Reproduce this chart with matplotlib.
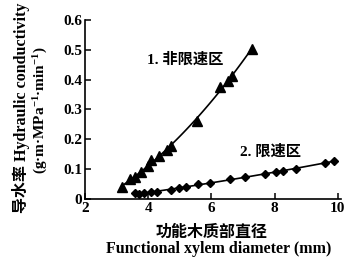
import numpy as np
import matplotlib
matplotlib.use("Agg")
import matplotlib.pyplot as plt

# Series 1: non rate-limiting zone (triangles)
x1 = [3.18, 3.41, 3.59, 3.77, 3.98, 4.08, 4.34, 4.60, 4.71, 5.54, 6.27, 6.53, 6.66, 7.28]
y1 = [0.039, 0.066, 0.075, 0.092, 0.109, 0.131, 0.145, 0.165, 0.176, 0.260, 0.376, 0.395, 0.412, 0.504]
# Series 2: rate-limiting zone (diamonds)
x2 = [3.59, 3.72, 3.88, 4.08, 4.29, 4.71, 4.97, 5.18, 5.59, 5.96, 6.58, 7.05, 7.68, 8.04, 8.25, 8.67, 9.60, 9.87]
y2 = [0.019, 0.017, 0.019, 0.022, 0.025, 0.030, 0.036, 0.041, 0.050, 0.055, 0.066, 0.073, 0.084, 0.090, 0.095, 0.100, 0.120, 0.129]

label1 = "1. 非限速区"
label2 = "2. 限速区"
xticks = [2, 4, 6, 8, 10]
yticks = [0, 0.1, 0.2, 0.3, 0.4, 0.5, 0.6]
ytick_labels = ["0", "0.1", "0.2", "0.3", "0.4", "0.5", "0.6"]

plt.rcParams['font.family'] = ['Liberation Serif', 'Noto Sans CJK SC', 'DejaVu Serif']
plt.rcParams['font.weight'] = 'bold'
plt.rcParams['mathtext.fontset'] = 'custom'
plt.rcParams['mathtext.rm'] = 'Liberation Serif:bold'
plt.rcParams['mathtext.bf'] = 'Liberation Serif:bold'
plt.rcParams['mathtext.default'] = 'bf'

fig = plt.figure(figsize=(3.51, 2.67), dpi=100)
ax = fig.add_axes([85/351, 1-199/267, 256/351, 179/267])

# fitted smooth curves from data
p1 = np.polyfit(x1, y1, 2)
xs1 = np.linspace(min(x1), max(x1), 100)
ax.plot(xs1, np.polyval(p1, xs1), color='black', lw=1.2)
p2 = np.polyfit(x2, y2, 2)
xs2 = np.linspace(min(x2), max(x2), 100)
ax.plot(xs2, np.polyval(p2, xs2), color='black', lw=1.2)

ax.plot(x1, y1, linestyle='none', marker='^', color='black', markersize=7)
ax.plot(x2, y2, linestyle='none', marker='D', color='black', markersize=4.5)

ax.set_xlim(2, 10.1)
ax.set_ylim(0, 0.6)
ax.set_xticks(xticks)
ax.set_yticks(yticks)
ax.set_yticklabels(ytick_labels)
for s in ['top', 'right']:
    ax.spines[s].set_visible(False)
for s in ['left', 'bottom']:
    ax.spines[s].set_linewidth(1.2)
ax.tick_params(direction='in', length=4, width=1.1, labelsize=11, pad=2)
for lab in ax.get_xticklabels() + ax.get_yticklabels():
    lab.set_fontweight('bold')

ax.text(3.97, 0.468, label1, fontsize=11, fontweight='bold', va='center', ha='left')
ax.text(6.9, 0.158, label2, fontsize=11, fontweight='bold', va='center', ha='left')

fig.text(212/351, 1-232/267, "功能木质部直径", fontsize=11.5, fontweight='bold', ha='center', va='center',
         family=['Noto Sans CJK SC'])
fig.text(219/351, 1-249/267, "Functional xylem diameter (mm)", fontsize=11.5, fontweight='bold',
         ha='center', va='center')
fig.text(21/351, 1-108/267, "导水率 Hydraulic conductivity", fontsize=11.5, fontweight='bold',
         ha='center', va='center', rotation=90)
fig.text(41/351, 1-110/267, "(g·m·MPa$^{-1}$·min$^{-1}$)", fontsize=11, fontweight='bold',
         ha='center', va='center', rotation=90)

fig.savefig("out.png", dpi=100)
